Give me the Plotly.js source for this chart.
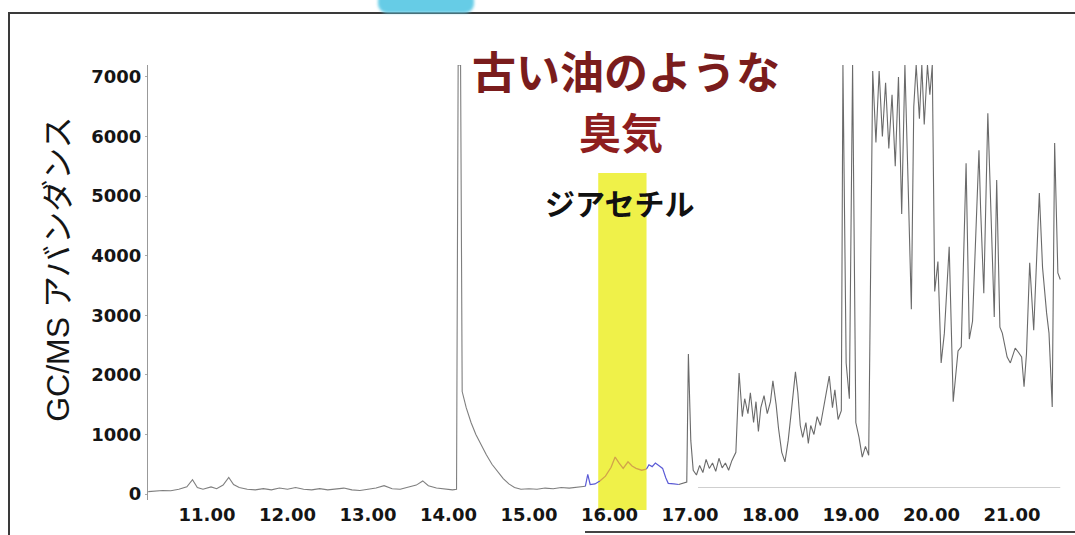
<!DOCTYPE html>
<html>
<head>
<meta charset="utf-8">
<script src="https://cdn.plot.ly/plotly-3.0.1.min.js"></script>
<style>
  html, body { margin: 0; padding: 0; background: #ffffff; }
  #wrap { position: relative; width: 1075px; height: 535px; overflow: hidden; background: #ffffff; }
  #chart { position: absolute; left: 0; top: 0; width: 1075px; height: 535px; }
  #frame { position: absolute; left: 8px; top: 12px; width: 1100px; height: 600px;
           border-top: 2px solid #3a3a3a; border-left: 2px solid #3a3a3a; pointer-events: none; }
  #frameBottom { position: absolute; left: 585px; top: 531px; width: 500px; height: 2px;
                 background: #444; pointer-events: none; }
  #blob { position: absolute; left: 378px; top: -9px; width: 96px; height: 22px; background: #66cce6;
          border-radius: 9px; filter: blur(1.5px); pointer-events: none; }
</style>
</head>
<body>
<div id="wrap">
  <div id="chart"></div>
  <div id="frame"></div>
  <div id="frameBottom"></div>
  <div id="blob"></div>
</div>
<script>
// Retention time (min) and GC/MS abundance
const preTime  = [10.27,10.35,10.45,10.55,10.65,10.75,10.82,10.88,10.95,11.05,11.12,11.2,11.27,11.33,11.4,11.5,11.6,11.7,11.8,11.9,12.0,12.1,12.2,12.3,12.4,12.5,12.6,12.7,12.8,12.9,13.0,13.1,13.2,13.3,13.4,13.5,13.6,13.68,13.75,13.85,13.95,14.05,14.1,14.12,14.15,14.17,14.22,14.28,14.34,14.4,14.47,14.54,14.61,14.68,14.75,14.82,14.9,15.0,15.1,15.2,15.3,15.4,15.5,15.6,15.7];
const preAbund = [40,50,60,55,80,120,240,110,80,120,90,150,280,160,110,80,70,90,70,100,80,110,80,70,90,70,80,100,70,60,80,100,140,90,80,110,150,220,140,100,80,70,80,7200,7200,1720,1450,1200,1000,830,660,500,370,260,170,110,80,90,80,100,90,110,100,120,130];

const blueLTime  = [15.7,15.73,15.76,15.82,15.88];
const blueLAbund = [130,330,160,170,220];

const bandTime  = [15.88,15.95,16.02,16.07,16.12,16.17,16.23,16.28,16.33,16.4,16.46];
const bandAbund = [220,300,450,620,520,430,540,470,430,400,420];

const blueRTime  = [16.46,16.49,16.53,16.57,16.62,16.66,16.7,16.73,16.8,16.86];
const blueRAbund = [420,490,460,520,470,430,270,180,170,160];

const postTime  = [16.86,16.92,16.96,16.98,17.01,17.04,17.08,17.12,17.16,17.2,17.24,17.28,17.32,17.36,17.4,17.44,17.48,17.52,17.57,17.61,17.65,17.68,17.72,17.75,17.79,17.82,17.85,17.88,17.92,17.96,18.0,18.03,18.07,18.1,18.14,18.18,18.22,18.26,18.31,18.34,18.37,18.4,18.44,18.47,18.5,18.54,18.58,18.62,18.66,18.7,18.73,18.77,18.8,18.84,18.88,18.9,18.94,18.98,19.02,19.06,19.1,19.14,19.18,19.22,19.27,19.31,19.35,19.39,19.43,19.47,19.51,19.55,19.59,19.63,19.67,19.71,19.75,19.78,19.81,19.85,19.88,19.91,19.95,19.98,20.01,20.04,20.08,20.12,20.16,20.22,20.27,20.33,20.37,20.43,20.47,20.51,20.59,20.61,20.65,20.7,20.74,20.78,20.81,20.85,20.88,20.94,20.98,21.04,21.08,21.12,21.15,21.18,21.22,21.27,21.34,21.38,21.43,21.46,21.5,21.53,21.57,21.6];
const postAbund = [160,180,200,2350,900,400,320,480,360,580,430,520,380,600,440,520,400,560,700,2030,1300,1600,1350,1700,1200,1550,1050,1450,1650,1350,1550,1900,1500,1100,700,540,900,1400,2050,1700,1150,950,1200,850,1150,1000,1300,1150,1450,1700,1980,1450,1750,1250,1400,7200,2200,1600,7200,1200,950,620,800,650,7100,5900,7100,6000,6900,5800,6700,5500,7000,4700,7200,5200,3100,6500,7200,6300,7200,6200,7200,6700,7200,3400,3900,2200,2700,4150,1550,2400,2470,5550,2600,2900,5770,4800,3370,6390,4480,2970,5270,2800,2700,2300,2200,2450,2380,2300,1800,2350,3880,2750,5050,3800,3040,2700,1460,5890,3710,3600];

const baseTime  = [17.1, 21.6];
const baseAbund = [110, 110];

const xTickVals = [11,12,13,14,15,16,17,18,19,20,21];
const xTickText = ['11.00','12.00','13.00','14.00','15.00','16.00','17.00','18.00','19.00','20.00','21.00'];
const yTickVals = [0,1000,2000,3000,4000,5000,6000,7000];

const bandStart = 15.86, bandEnd = 16.46;

const tickFont = {family: 'DejaVu Sans, Liberation Sans, sans-serif', size: 18, color: '#151515', weight: 'bold'};

const lineTrace = (x, y, color, w) => ({
  x: x, y: y, type: 'scatter', mode: 'lines',
  line: {color: color, width: w}, hoverinfo: 'skip'
});

const data = [
  lineTrace(baseTime, baseAbund, '#cfcfcf', 1),
  lineTrace(preTime, preAbund, 'rgba(105,105,105,0.85)', 1.1),
  lineTrace(blueLTime, blueLAbund, '#5b5bd6', 1.2),
  lineTrace(bandTime, bandAbund, '#d2a34a', 1.3),
  lineTrace(blueRTime, blueRAbund, '#5b5bd6', 1.2),
  lineTrace(postTime, postAbund, 'rgba(80,80,80,0.85)', 1.1)
];

const layout = {
  width: 1075, height: 535,
  margin: {l: 148, r: 7, t: 65, b: 35},
  paper_bgcolor: 'rgba(0,0,0,0)', plot_bgcolor: 'rgba(0,0,0,0)',
  showlegend: false,
  xaxis: {
    range: [10.267, 21.696], tickvals: xTickVals, ticktext: xTickText,
    showgrid: false, zeroline: false, showline: false, ticks: '',
    tickfont: tickFont, ticklabelstandoff: 2, fixedrange: true
  },
  yaxis: {
    range: [-100, 7200], tickvals: yTickVals,
    showgrid: false, zeroline: false, showline: true, linecolor: '#999', linewidth: 1,
    ticks: 'outside', ticklen: 2, tickcolor: '#aaa',
    tickfont: tickFont, ticklabelstandoff: 0, fixedrange: true
  },
  shapes: [{
    type: 'rect', xref: 'x', yref: 'paper', x0: bandStart, x1: bandEnd, y0: -0.023, y1: 0.752,
    fillcolor: 'rgba(238,240,58,0.92)', line: {width: 0}, layer: 'below'
  }],
  annotations: [
    {text: 'GC/MS アバンダンス', xref: 'paper', yref: 'paper', x: -0.098, y: 0.531,
     textangle: -90, showarrow: false, xanchor: 'center', yanchor: 'middle',
     font: {family: 'Liberation Sans, Noto Sans CJK JP, sans-serif', size: 32, color: '#151515'}},
    {text: '古い油のような', xref: 'paper', yref: 'paper', x: 0.52, y: 0.988,
     showarrow: false, xanchor: 'center', yanchor: 'middle',
     font: {family: 'Noto Sans CJK JP, sans-serif', size: 44, color: '#7a1c1c', weight: 'bold'}},
    {text: '臭気', xref: 'paper', yref: 'paper', x: 0.514, y: 0.85,
     showarrow: false, xanchor: 'center', yanchor: 'middle',
     font: {family: 'Noto Sans CJK JP, sans-serif', size: 42, color: '#8e1e1e', weight: 'bold'}},
    {text: 'ジアセチル', xref: 'paper', yref: 'paper', x: 0.513, y: 0.685,
     showarrow: false, xanchor: 'center', yanchor: 'middle',
     font: {family: 'Noto Sans CJK JP, sans-serif', size: 30, color: '#111', weight: 'bold'}}
  ]
};

Plotly.newPlot('chart', data, layout, {displayModeBar: false, staticPlot: true});
</script>
</body>
</html>
